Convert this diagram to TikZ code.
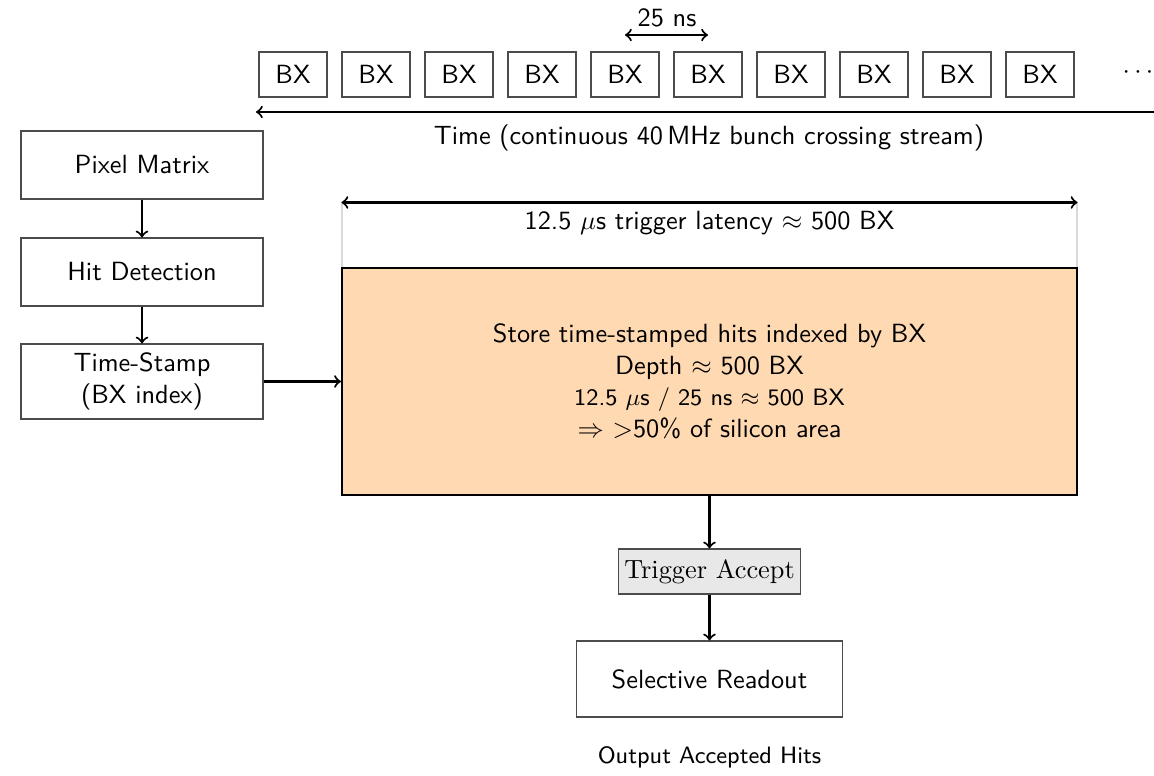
\documentclass[tikz,border=0pt]{standalone}
\usetikzlibrary{calc}
\begin{document}
\begin{tikzpicture}[x=0.38pt,y=-0.38pt,
  font=\sffamily,
  bxbox/.style={draw=black!70,minimum width=25.84pt,minimum height=17.1pt,inner sep=0pt},
  stagebox/.style={draw=black!70,minimum width=91.96pt,minimum height=25.84pt,align=center,inner sep=1pt},
  conn/.style={->,thick},
]
\useasboundingbox (0,0) rectangle (1154,776);
% BX stream
\foreach \i in {1,...,10}{
  \node[bxbox] (b\i) at ({293+(\i-1)*83},74.5) {BX};
}
\node (dots) at (1138,73) {$\cdots$};
\coordinate (tR) at (1154,112);
\coordinate (tL) at (256,112);
\draw[->,thick] (tR) -- (tL);
\node (tlabel) at (709,138) {Time (continuous 40\,MHz bunch crossing stream)};
\coordinate (p5) at ($(b5.center)+(0,-39.5)$);
\coordinate (p6) at ($(b6.center)+(0,-39.5)$);
\draw[<->,thick] (p5) -- (p6);
\node (ns) at (667,18) {25 ns};
% left pipeline
\node[stagebox] (pix) at (142,165) {Pixel Matrix};
\node[stagebox] (hit) at (142,272) {Hit Detection};
\node[stagebox,minimum height=28.5pt] (ts) at (142,381.5) {Time-Stamp\\(BX index)};
% latency
\node[draw=gray!30,minimum width=279.3pt,minimum height=24.7pt,inner sep=0pt] (latbox) at (709.5,235.5) {};
\draw[<->,thick] (latbox.north west) -- (latbox.north east);
\node (latlabel) at (709.5,223) {12.5 $\mu$s trigger latency $\approx$ 500 BX};
% buffer
\node[draw,thick,fill=orange!30,minimum width=279.3pt,minimum height=86.26pt,align=center] (buf) at (709.5,381.5)
  {Store time-stamped hits indexed by BX\\ Depth $\approx$ 500 BX\\ {\small 12.5 $\mu$s / 25 ns $\approx$ 500 BX}\\ $\Rightarrow$ $>$50\% of silicon area};
\node[draw=black!70,fill=gray!18,font=\rmfamily,minimum width=69.16pt,minimum height=17.1pt,inner xsep=1.5pt] (trig) at (709.5,571.5) {Trigger Accept};
\node[draw=black!70,minimum width=101.08pt,minimum height=28.88pt] (sel) at (709.5,679) {Selective Readout};
\node[font=\sffamily\small] (out) at (709.5,757) {Output Accepted Hits};
% connectors
\draw[conn] (pix) -- (hit);
\draw[conn] (hit) -- (ts);
\draw[conn] (ts) -- (buf);
\draw[conn] (buf) -- (trig);
\draw[conn] (trig) -- (sel);
\end{tikzpicture}
\end{document}
